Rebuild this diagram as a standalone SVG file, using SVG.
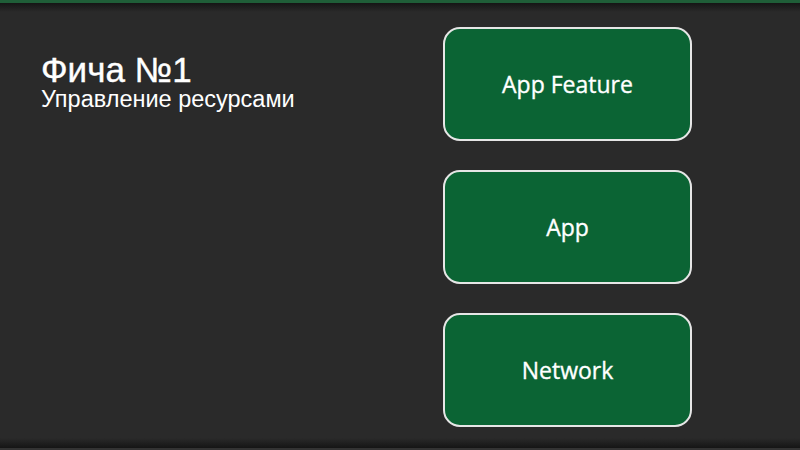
<svg xmlns="http://www.w3.org/2000/svg" width="800" height="450" viewBox="0 0 800 450">
<defs>
<linearGradient id="topShade" x1="0" y1="0" x2="0" y2="1">
<stop offset="0" stop-color="#151515"/>
<stop offset="1" stop-color="#2a2a2a"/>
</linearGradient>
<linearGradient id="botShade" x1="0" y1="0" x2="0" y2="1">
<stop offset="0" stop-color="#2a2a2a"/>
<stop offset="1" stop-color="#151515"/>
</linearGradient>
<style>
.node rect{fill:#0b6434;stroke:#e6e6e6;stroke-width:2}
.node text{fill:#ffffff;stroke:#ffffff;stroke-width:0.35;font-family:"Open Sans","Noto Sans",sans-serif;font-size:23px;text-anchor:middle}
.title{fill:#ffffff;font-family:"Liberation Sans",Arial,sans-serif}
</style>
</defs>
<rect x="0" y="0" width="800" height="450" fill="#2a2a2a"/>
<rect x="0" y="3" width="800" height="9" fill="url(#topShade)"/>
<rect x="0" y="0" width="800" height="3" fill="#1f5e38"/>
<rect x="0" y="438" width="800" height="10" fill="url(#botShade)"/>
<rect x="0" y="448" width="800" height="2" fill="#333333"/>
<text class="title" x="41" y="82" font-size="35" stroke="#ffffff" stroke-width="0.4">Фича №1</text>
<text class="title" x="41" y="107" font-size="23.5">Управление ресурсами</text>
<g id="connectors"></g>
<g id="node-app-feature" class="node">
<rect x="444" y="28" width="247" height="112" rx="16"/>
<text x="567.5" y="93">App Feature</text>
</g>
<g id="node-app" class="node">
<rect x="444" y="171" width="247" height="112" rx="16"/>
<text x="567.5" y="236">App</text>
</g>
<g id="node-network" class="node">
<rect x="444" y="314" width="247" height="112" rx="16"/>
<text x="567.5" y="379">Network</text>
</g>
</svg>
